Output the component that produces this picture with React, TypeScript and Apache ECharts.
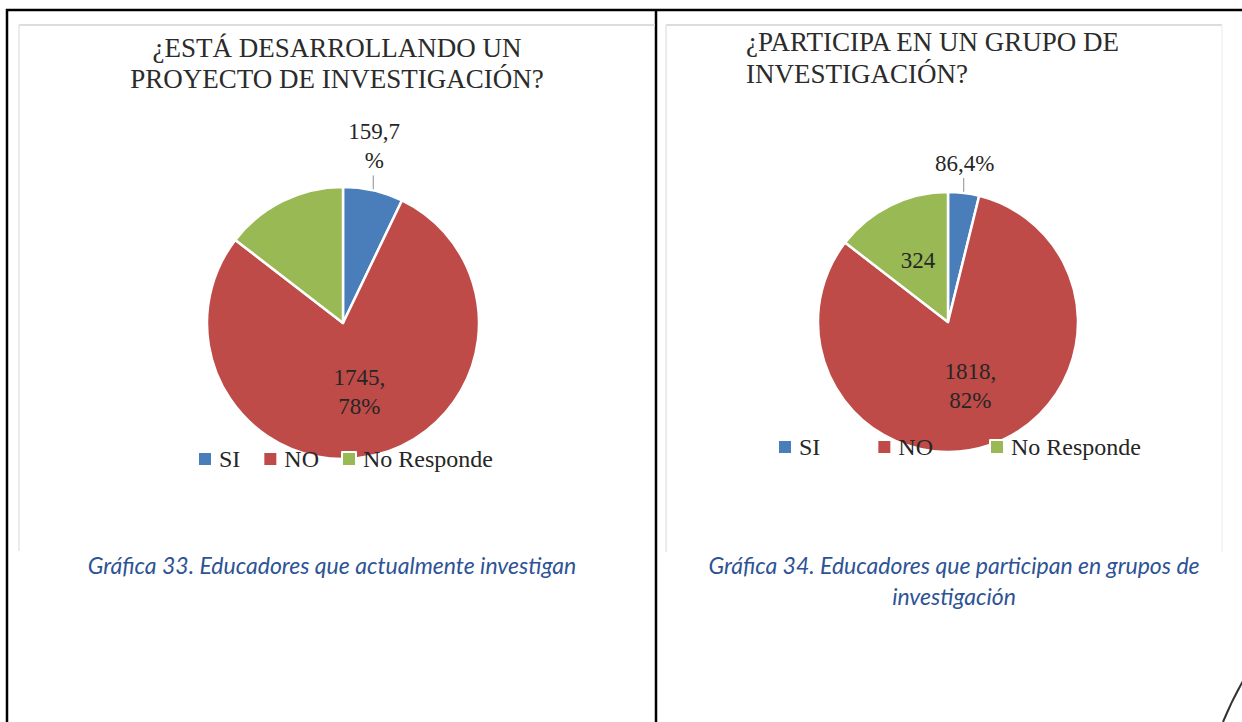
import React, { useEffect, useRef } from 'react';
import * as echarts from 'echarts';

// ---- data ----
const categories = ['SI', 'NO', 'No Responde'];
const proyectoValues = [159, 1745, 324];
const grupoValues = [86, 1818, 324];
const sliceColors = ['#4A7EBB', '#BE4B48', '#98B954'];
const titleProyecto = ['¿ESTÁ DESARROLLANDO UN', 'PROYECTO DE INVESTIGACIÓN?'];
const titleGrupo = ['¿PARTICIPA EN UN GRUPO DE', 'INVESTIGACIÓN?'];
const captionProyecto = ['Gráfica 33. Educadores que actualmente investigan'];
const captionGrupo = ['Gráfica 34. Educadores que participan en grupos de', 'investigación'];

const SERIF = '"Liberation Serif", "Times New Roman", serif';
const TEXT_DARK = '#262626';
const CAPTION_BLUE = '#2E5395';

type Fmt = ((v: number, p: number) => string) | null;

function buildPie(
  name: string,
  values: number[],
  center: [number, number],
  radius: number,
  formatters: Fmt[],
  outsideIndex: number
) {
  return {
    type: 'pie',
    name,
    center,
    radius,
    startAngle: 90,
    clockwise: true,
    silent: true,
    itemStyle: { borderColor: '#ffffff', borderWidth: 2.5 },
    label: {
      fontFamily: SERIF,
      fontSize: 23,
      lineHeight: 29,
      color: TEXT_DARK,
    },
    labelLayout: (p: any) => {
      if (p.dataIndex !== outsideIndex) return {};
      const pts = p.labelLinePoints;
      if (!pts || !pts[0]) return {};
      const x0 = pts[0][0];
      const y0 = pts[0][1];
      const yEnd = y0 - 15;
      return {
        x: x0 + 1,
        y: yEnd,
        align: 'center',
        verticalAlign: 'bottom',
        labelLinePoints: [
          [x0, y0],
          [x0, yEnd],
          [x0, yEnd],
        ],
      };
    },
    data: categories.map((cat, i) => {
      const fmt = formatters[i];
      const isOutside = i === outsideIndex;
      return {
        name: cat,
        value: values[i],
        itemStyle: { color: sliceColors[i] },
        label: fmt
          ? {
              show: true,
              position: isOutside ? 'outside' : 'inside',
              formatter: (prm: any) => fmt(prm.value, Math.round(prm.percent)),
            }
          : { show: false },
        labelLine: isOutside
          ? { show: true, length: 12, length2: 0, lineStyle: { color: '#8C8C8C', width: 1 } }
          : { show: false },
      };
    }),
  };
}

function legendAt(left: number, top: number, gap: number) {
  return {
    data: categories,
    left,
    top,
    orient: 'horizontal',
    padding: 0,
    itemGap: gap,
    itemWidth: 14,
    itemHeight: 14,
    icon: 'rect',
    selectedMode: false,
    textStyle: { fontFamily: SERIF, fontSize: 24, color: TEXT_DARK, padding: [0, 0, 0, 2] },
  };
}

function textEl(lines: string[], x: number, y: number, opts: any) {
  return {
    type: 'text',
    x,
    y,
    silent: true,
    style: {
      text: lines.join('\n'),
      ...opts,
    },
  };
}

export default function App() {
  const ref = useRef<HTMLDivElement>(null);

  useEffect(() => {
    if (!ref.current) return;
    const chart = echarts.init(ref.current, undefined, { renderer: 'svg' });

    const captionFont = {
      fontFamily: 'Lato, "Open Sans", sans-serif',
      fontStyle: 'italic',
      fontSize: 23,
      lineHeight: 31,
      fill: CAPTION_BLUE,
      align: 'center',
      textAlign: 'center',
      verticalAlign: 'top',
      textVerticalAlign: 'top',
    };

    const option: any = {
      animation: false,
      backgroundColor: '#ffffff',
      legend: [legendAt(197, 447, 22), legendAt(777, 435, 56)],
      series: [
        buildPie(
          'Proyecto',
          proyectoValues,
          [343, 323],
          136,
          [(v, p) => `${v},${p}\n%`, (v, p) => `${v},\n${p}%`, null],
          0
        ),
        buildPie(
          'Grupo',
          grupoValues,
          [948, 322],
          130,
          [(v, p) => `${v},${p}%`, (v, p) => `${v},\n${p}%`, (v) => `${v}`],
          0
        ),
      ],
      graphic: [
        // table borders
        { type: 'line', silent: true, shape: { x1: 6, y1: 10, x2: 1242, y2: 10 }, style: { stroke: '#000', lineWidth: 2.5 } },
        { type: 'line', silent: true, shape: { x1: 7, y1: 9, x2: 7, y2: 722 }, style: { stroke: '#000', lineWidth: 2.5 } },
        { type: 'line', silent: true, shape: { x1: 656, y1: 9, x2: 656, y2: 722 }, style: { stroke: '#000', lineWidth: 2.5 } },
        {
          type: 'bezierCurve',
          silent: true,
          shape: { x1: 1243, y1: 681, cpx1: 1232, cpy1: 700, x2: 1223, y2: 722 },
          style: { stroke: '#333', lineWidth: 2, fill: 'none' },
        },
        // chart picture frames (faint)
        { type: 'line', silent: true, shape: { x1: 19, y1: 25, x2: 655, y2: 25 }, style: { stroke: '#DCDCDC', lineWidth: 2 } },
        { type: 'line', silent: true, shape: { x1: 19, y1: 25, x2: 19, y2: 551 }, style: { stroke: '#E4E4E4', lineWidth: 1.5 } },
        { type: 'line', silent: true, shape: { x1: 666, y1: 25, x2: 1222, y2: 25 }, style: { stroke: '#DCDCDC', lineWidth: 2 } },
        { type: 'line', silent: true, shape: { x1: 666, y1: 25, x2: 666, y2: 552 }, style: { stroke: '#E4E4E4', lineWidth: 1.5 } },
        { type: 'line', silent: true, shape: { x1: 1222, y1: 25, x2: 1222, y2: 552 }, style: { stroke: '#F0F0F0', lineWidth: 1.5 } },
        // titles
        textEl(titleProyecto, 337, 32, {
          fontFamily: SERIF, fontSize: 27, lineHeight: 31, fill: '#2B2B2B',
          align: 'center', textAlign: 'center', verticalAlign: 'top', textVerticalAlign: 'top',
        }),
        textEl(titleGrupo, 746, 26, {
          fontFamily: SERIF, fontSize: 27, lineHeight: 32, fill: '#2B2B2B',
          align: 'left', textAlign: 'left', verticalAlign: 'top', textVerticalAlign: 'top',
        }),
        // captions
        textEl(captionProyecto, 332, 549, captionFont),
        textEl(captionGrupo, 954, 549, captionFont),
      ],
    };

    chart.setOption(option);
    return () => {
      chart.dispose();
    };
  }, []);

  return (
    <div
      ref={ref}
      style={{ position: 'absolute', left: 0, top: 0, width: 1242, height: 722, background: '#fff' }}
    />
  );
}
